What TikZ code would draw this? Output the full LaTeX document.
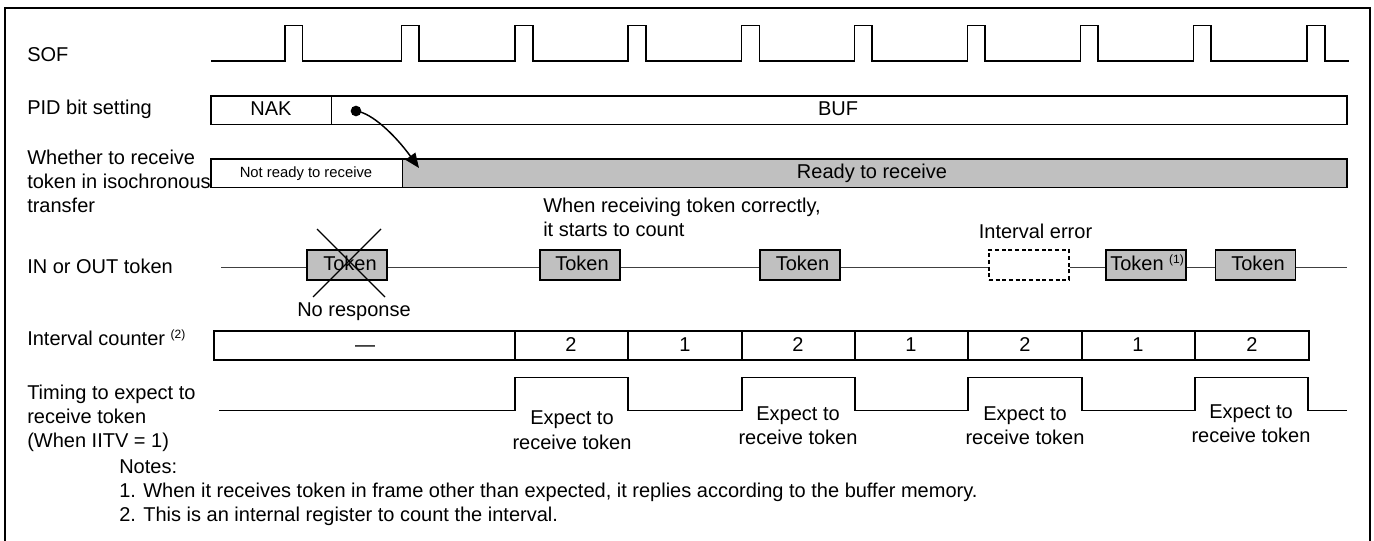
\documentclass[tikz,border=0pt]{standalone}
\usepackage{fontspec}
\setmainfont{Liberation Sans}
\usetikzlibrary{arrows.meta}
\newcommand{\mainsz}{\fontsize{15}{18}\selectfont}
\newcommand{\smallsz}{\fontsize{11.1}{13}\selectfont}
\newcommand{\supnote}[1]{\raisebox{5.5pt}{\fontsize{9}{10}\selectfont(#1)}}
\definecolor{boxgray}{HTML}{C0C0C0}
\tikzset{
  x=0.75pt,y=-0.75pt,
  wire/.style={draw=black,line width=1.1pt,line join=miter},
  thinwire/.style={draw=black!75,line width=0.75pt},
  frameline/.style={draw=black,line width=1.6pt},
  bar/.style={draw=black,line width=1.1pt,fill=white},
  graybar/.style={bar,fill=boxgray},
  tokenbox/.style={rectangle,draw=black,line width=1.1pt,fill=boxgray,minimum width=60pt,minimum height=22.5pt,inner sep=0pt},
  missbox/.style={tokenbox,fill=white,densely dashed},
  txt/.style={inner sep=0pt,font=\mainsz,text=black},
  lbl/.style={txt,anchor=base west},
  ctr/.style={txt,anchor=base},
  crossline/.style={draw=black,line width=1pt},
}
\begin{document}
\begin{tikzpicture}
\useasboundingbox (0,0) rectangle (1374,541);
\fill[white] (0,0) rectangle (1374,541);
% outer frame (open at the bottom edge of the picture)
\draw[frameline] (5,541) -- (5,8) -- (1370,8) -- (1370,541);

% left labels
\node[lbl] (lsof) at (27,62) {SOF};
\node[lbl] (lpid) at (27,115) {PID bit setting};
\node[lbl] (lw1) at (27,165) {Whether to receive};
\node[lbl] (lw2) at (27,189) {token in isochronous};
\node[lbl] (lw3) at (27,213) {transfer};
\node[lbl] (ltok) at (27,274) {IN or OUT token};
\node[lbl] (lcnt) at (27,346) {Interval counter \supnote{2}};
\node[lbl] (lt1) at (27,399) {Timing to expect to};
\node[lbl] (lt2) at (27,423) {receive token};
\node[lbl] (lt3) at (27,447) {(When IITV = 1)};

% SOF waveform
\draw[wire] (211,61)
  \foreach \a/\b in {285/302.5,401.5/419,515/533,628/646,741.5/759.5,854.5/872,967.5/985,1080.5/1098,1193.5/1211,1307/1325}{
    -- (\a,61) -- (\a,25.5) -- (\b,25.5) -- (\b,61)
  } -- (1349,61);

% PID bar
\draw[bar] (211,96) rectangle (1347,124.5);
\draw[wire] (331.5,96) -- (331.5,124.5);
\node[ctr] (nak) at (271,116) {NAK};
\node[ctr] (buf) at (838,116) {BUF};

% receive bar
\draw[bar] (211,159) rectangle (402.5,187.5);
\draw[graybar] (402.5,159) rectangle (1347,187.5);
\node[ctr,font=\smallsz] (notready) at (306,178) {Not ready to receive};
\node[ctr] (ready) at (872,178.5) {Ready to receive};

% dependency arrow
\node[circle,fill=black,inner sep=0pt,minimum size=8pt] (dot) at (356,111) {};
\coordinate (arrowend) at (419,168);
\draw[line width=1.1pt,-{Triangle[length=11pt,width=9pt]}] (dot.center) .. controls (372,113) and (395,135) .. (arrowend);

% token line
\coordinate (ts) at (221,268);
\coordinate (te) at (1347,268);
\node[tokenbox] (tok1) at (347,265) {};
\node[tokenbox] (tok2) at (580,265) {};
\node[tokenbox] (tok3) at (800,265) {};
\node[missbox] (tok4) at (1029,265) {};
\node[tokenbox] (tok5) at (1146,265) {};
\node[tokenbox] (tok6) at (1255.5,265) {};
\draw[thinwire] (ts) -- (ts -| tok1.west);
\draw[thinwire] (ts -| tok1.east) -- (ts -| tok2.west);
\draw[thinwire] (ts -| tok2.east) -- (ts -| tok3.west);
\draw[thinwire] (ts -| tok3.east) -- (ts -| tok4.west);
\draw[thinwire] (ts -| tok4.east) -- (ts -| tok5.west);
\draw[thinwire] (ts -| tok5.east) -- (ts -| tok6.west);
\draw[thinwire] (ts -| tok6.east) -- (te);
\node[ctr] (tt1) at (350,271) {Token};
\node[ctr] (tt2) at (582,271) {Token};
\node[ctr] (tt3) at (802.5,271) {Token};
\node[lbl] (tt5) at (1110,271) {Token \supnote{1}};
\node[ctr] (tt6) at (1258,271) {Token};
% cross
\draw[crossline] (317,229) -- (385,297);
\draw[crossline] (381,229) -- (313,297);

\node[ctr] (nores) at (354,317) {No response};
\node[lbl] (when1) at (543,213) {When receiving token correctly,};
\node[lbl] (when2) at (543,237) {it starts to count};
\node[ctr] (interr) at (1035.5,239) {Interval error};

% interval counter
\draw[bar] (214,331) rectangle (1309,360);
\foreach \x in {515,628,742,855,968,1082,1195}{
  \draw[wire] (\x,331) -- (\x,360);
}
\node[ctr] (c0) at (365,352) {—};
\node[ctr] (c1) at (571,352) {2};
\node[ctr] (c2) at (685,352) {1};
\node[ctr] (c3) at (798,352) {2};
\node[ctr] (c4) at (911,352) {1};
\node[ctr] (c5) at (1025,352) {2};
\node[ctr] (c6) at (1138,352) {1};
\node[ctr] (c7) at (1252,352) {2};

% expect waveform
\draw[wire] (219,410.5)
  \foreach \a/\b in {515/628,742/855,968/1082,1195/1308}{
    -- (\a,410.5) -- (\a,377.5) -- (\b,377.5) -- (\b,410.5)
  } -- (1347,410.5);
\node[ctr] (e1a) at (572,425) {Expect to};
\node[ctr] (e1b) at (572,449) {receive token};
\node[ctr] (e2a) at (798,421) {Expect to};
\node[ctr] (e2b) at (798,445) {receive token};
\node[ctr] (e3a) at (1025,421) {Expect to};
\node[ctr] (e3b) at (1025,445) {receive token};
\node[ctr] (e4a) at (1251,418) {Expect to};
\node[ctr] (e4b) at (1251,442) {receive token};

% notes
\node[lbl] (n0) at (119,473) {Notes:};
\node[lbl] (n1) at (119,497) {1. When it receives token in frame other than expected, it replies according to the buffer memory.};
\node[lbl] (n2) at (119,521) {2. This is an internal register to count the interval.};
\end{tikzpicture}
\end{document}
